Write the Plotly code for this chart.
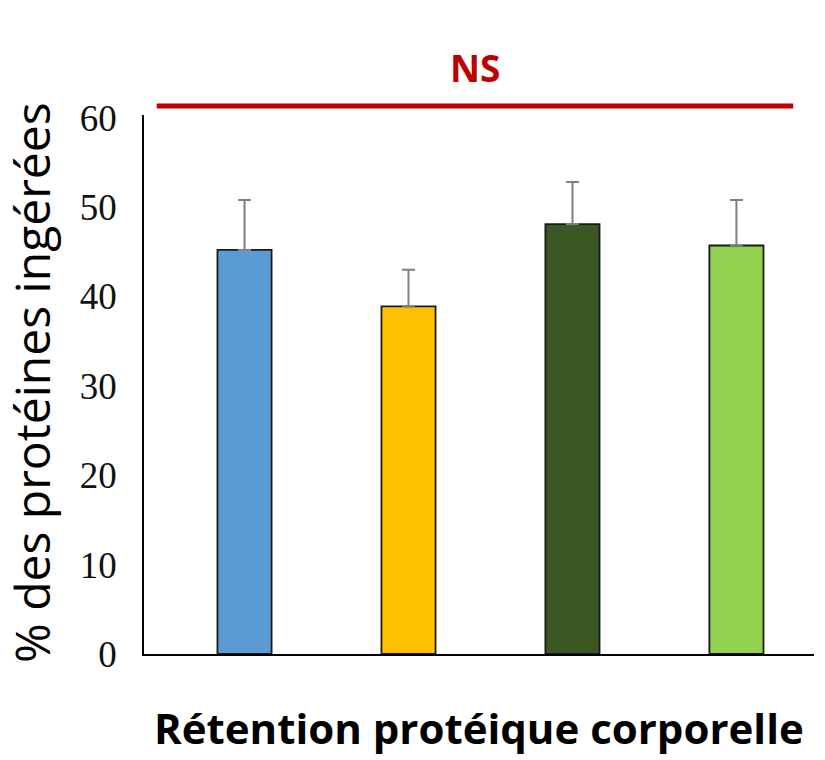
import plotly.graph_objects as go

categories = ["G1", "G2", "G3", "G4"]
values = [45.2, 38.9, 48.1, 45.7]
errors = [5.6, 4.1, 4.7, 5.1]
colors = ["#5B9BD5", "#FFC000", "#3A5724", "#92D050"]
y_ticks = [0, 10, 20, 30, 40, 50, 60]
significance = "NS"
x_title = "Rétention protéique corporelle"
y_title = "% des protéines ingérées"

fig = go.Figure()
fig.add_trace(go.Bar(
    x=categories, y=values,
    marker=dict(color=colors, line=dict(color="#1a1a1a", width=1.8)),
    width=0.33,
    error_y=dict(type="data", array=errors, symmetric=False, arrayminus=[0]*4,
                 color="#7F7F7F", thickness=2, width=6.5),
    showlegend=False,
))

fig.update_layout(
    width=825, height=760,
    margin=dict(l=144, r=11, t=115, b=106),
    plot_bgcolor="white", paper_bgcolor="white",
    xaxis=dict(range=[-0.613, 3.473], showticklabels=False, ticks="",
               showline=True, linecolor="black", linewidth=1.5,
               showgrid=False, zeroline=False),
    yaxis=dict(range=[0, 60.3], tickvals=y_ticks, ticks="",
               showline=True, linecolor="black", linewidth=1.5,
               showgrid=False, zeroline=False, ticklabelstandoff=18,
               tickfont=dict(family="Liberation Serif", size=37, color="#111")),
    shapes=[dict(type="line", xref="paper", yref="paper", x0=0.019, x1=0.969,
                 y0=1.0167, y1=1.0167, line=dict(color="#C00000", width=5))],
    annotations=[
        dict(text=significance, xref="paper", yref="paper", x=0.494, y=1.089,
             xanchor="center", yanchor="middle",
             showarrow=False, font=dict(family="Open Sans", size=37, color="#C00000", weight="bold")),
        dict(text=x_title, xref="paper", yref="paper", x=0.5, y=-0.137,
             xanchor="center", yanchor="middle",
             showarrow=False, font=dict(family="Open Sans", size=42, color="black", weight="bold")),
        dict(text=y_title, xref="paper", yref="paper", x=-0.167, y=0.503,
             xanchor="center", yanchor="middle",
             textangle=-90, showarrow=False,
             font=dict(family="Open Sans", size=48, color="black")),
    ],
)

fig.write_html("out.html", config={"displayModeBar": False},
               post_script="document.body.style.margin='0';")
